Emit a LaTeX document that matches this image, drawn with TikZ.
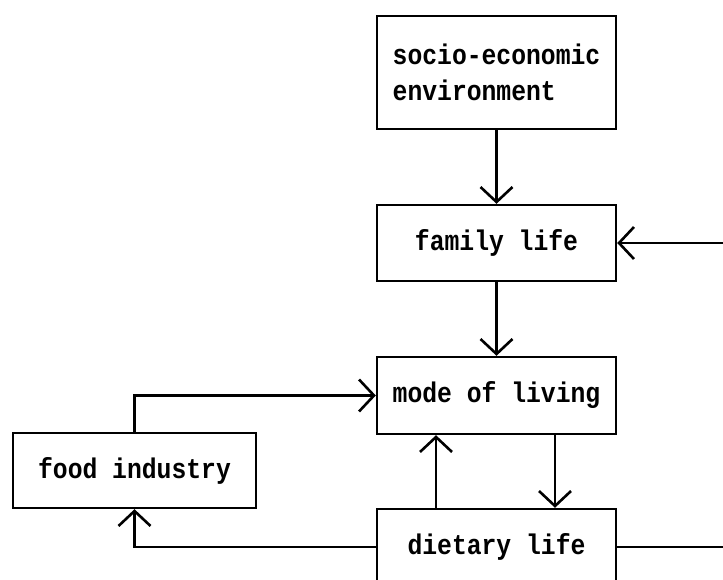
\documentclass[tikz,border=0pt]{standalone}
\usepackage{fontspec}
\newfontfamily\labfont[FakeStretch=0.87]{Liberation Mono}
\usetikzlibrary{arrows.meta}
\begin{document}
\begin{tikzpicture}[x=1pt,y=-1pt,
  box/.style={draw, line width=2.4pt, rectangle, minimum width=239pt, inner sep=0pt,
    font=\labfont\bfseries\fontsize{28.4}{36}\selectfont, align=left},
  conn/.style={line width=2.6pt},
  arr/.style={conn, -{Straight Barb[length=15pt,width=32pt]}}]
\clip (0,0) rectangle (723,580);
\fill[white] (0,0) rectangle (723,580);
\node[box, minimum height=113pt] (socio) at (496.5,72.5) {socio-economic\\environment};
\node[box, minimum height=76pt] (family) at (496.5,243) {family life};
\node[box, minimum height=77pt] (mode) at (496.5,395.5) {mode of living};
\node[box, minimum width=243pt, minimum height=75pt] (food) at (134.5,470.5) {food industry};
\node[box, minimum height=76pt] (diet) at (496.5,547) {dietary life};
\coordinate (rfam) at (723,243);
\coordinate (rdiet) at (723,547);
\coordinate (xa) at (555,0);
\coordinate (xb) at (436,0);
\draw[arr] (socio.south) -- (family.north);
\draw[arr] (family.south) -- (mode.north);
\draw[arr] (rfam) -- (family.east);
\draw[arr] (mode.south -| xa) -- (diet.north -| xa);
\draw[arr] (diet.north -| xb) -- (mode.south -| xb);
\draw[arr] (food.north) |- (mode.west);
\draw[arr] (diet.west) -| (food.south);
\draw[conn] (diet.east) -- (rdiet);
\end{tikzpicture}
\end{document}
